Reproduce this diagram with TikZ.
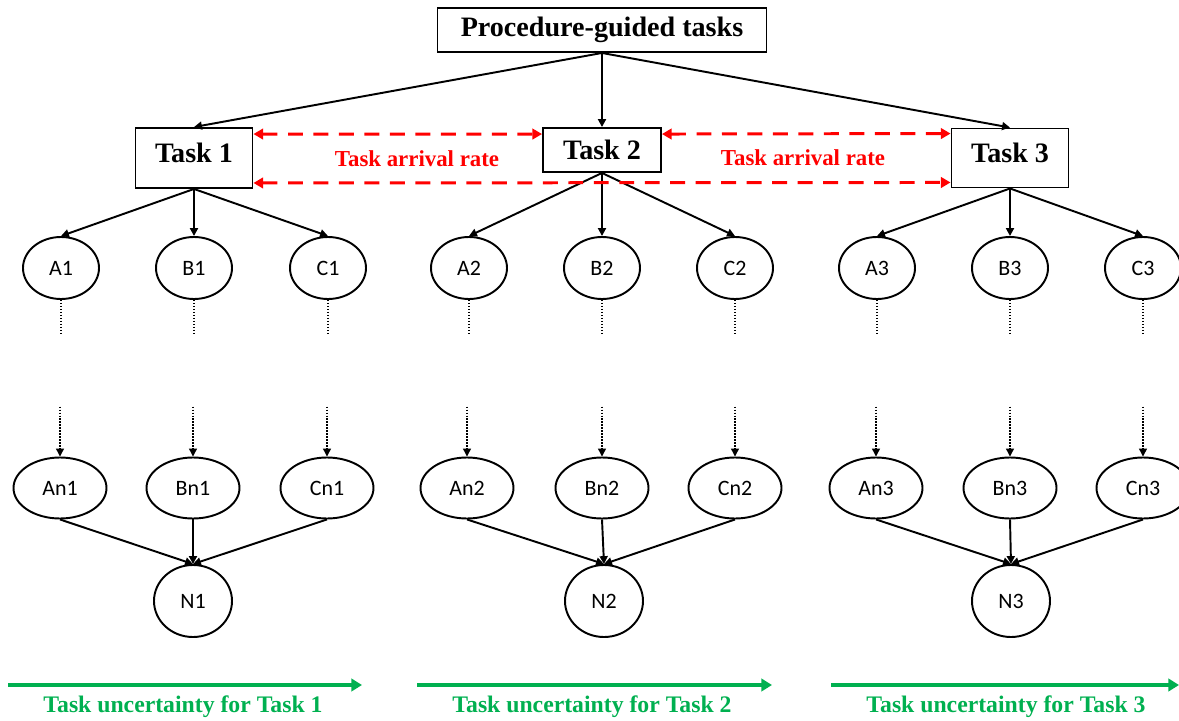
\documentclass[tikz,border=0pt]{standalone}
\usepackage{fontspec}
\setmainfont{Liberation Serif}
\newfontfamily\calib{Carlito}
\usetikzlibrary{arrows.meta,calc,shapes,positioning}
\definecolor{uncgreen}{RGB}{0,176,80}

\begin{document}
\begin{tikzpicture}[
            x=0.2mm, y=-0.2mm,
            box/.style={ draw, line width=1.1pt, font=\bfseries\fontsize{16}{19}\selectfont },
            oval/.style={ draw, ellipse, line width=1.1pt, inner sep=0pt, font=\calib\fontsize{12.5}{15}\selectfont, minimum width=15.2mm, minimum height=12.4mm },
            ovalwide/.style={ oval, minimum width=18.6mm, minimum height=12.2mm },
            sink/.style={ oval, minimum width=15.6mm, minimum height=14.4mm },
            link/.style={ -{Triangle[length=4.5pt,width=4.5pt]}, line width=1.1pt },
            gap/.style={ -{Triangle[length=4.5pt,width=4.5pt]}, densely dotted, line width=0.7pt },
            rate/.style={ {Triangle[length=5.5pt,width=6pt]}-{Triangle[length=5.5pt,width=6pt]}, red, dash pattern=on 8.5pt off 6pt, line width=1.7pt },
            ratelabel/.style={ red, font=\bfseries\fontsize{13}{16}\selectfont },
            trend/.style={ -{Triangle[length=6pt,width=7pt]}, uncgreen, line width=1.8pt },
            trendlabel/.style={ uncgreen, font=\bfseries\fontsize{13.5}{16}\selectfont }
        ]
        \useasboundingbox (0,0) rectangle (1179,721);

        % tasks
        \node[box, minimum width=65.8mm, minimum height=8.8mm] (root) at (602,30) {Procedure-guided tasks};
        \node[box, minimum width=23.4mm, minimum height=12mm, text depth=2mm] (t1) at (194,158) {Task 1};
        \node[box, minimum width=23.6mm, minimum height=8.8mm] (t2) at (602,150) {Task 2};
        \node[box, minimum width=23.4mm, minimum height=11.8mm, text depth=2mm] (t3) at (1010,158) {Task 3};

        % first steps
        \node[oval] (A1) at (61,268) {A1};
        \node[oval] (B1) at (194,268) {B1};
        \node[oval] (C1) at (328,268) {C1};
        \node[oval] (A2) at (469,268) {A2};
        \node[oval] (B2) at (602,268) {B2};
        \node[oval] (C2) at (735,268) {C2};
        \node[oval] (A3) at (877,268) {A3};
        \node[oval] (B3) at (1010,268) {B3};
        \node[oval] (C3) at (1143,268) {C3};

        % last steps
        \node[ovalwide] (An1) at (60,488) {An1};
        \node[ovalwide] (Bn1) at (193,488) {Bn1};
        \node[ovalwide] (Cn1) at (327,488) {Cn1};
        \node[ovalwide] (An2) at (467,488) {An2};
        \node[ovalwide] (Bn2) at (602,488) {Bn2};
        \node[ovalwide] (Cn2) at (735,488) {Cn2};
        \node[ovalwide] (An3) at (876,488) {An3};
        \node[ovalwide] (Bn3) at (1010,488) {Bn3};
        \node[ovalwide] (Cn3) at (1143,488) {Cn3};

        \node[sink] (N1) at (193,601) {N1};
        \node[sink] (N2) at (604,601) {N2};
        \node[sink] (N3) at (1011,601) {N3};

        \draw[link] (root.south) -- (t1.north);
        \draw[link] (root.south) -- (t2.north);
        \draw[link] (root.south) -- (t3.north);

        \draw[link] (t1.south) -- (A1.north);
        \draw[link] (t1.south) -- (B1.north);
        \draw[link] (t1.south) -- (C1.north);
        \draw[link] (t2.south) -- (A2.north);
        \draw[link] (t2.south) -- (B2.north);
        \draw[link] (t2.south) -- (C2.north);
        \draw[link] (t3.south) -- (A3.north);
        \draw[link] (t3.south) -- (B3.north);
        \draw[link] (t3.south) -- (C3.north);

        % steps left out
        \draw[gap] (A1.south) -- ++(0,34) ([yshift=1cm]An1.north) -- (An1.north);
        \draw[gap] (B1.south) -- ++(0,34) ([yshift=1cm]Bn1.north) -- (Bn1.north);
        \draw[gap] (C1.south) -- ++(0,34) ([yshift=1cm]Cn1.north) -- (Cn1.north);
        \draw[gap] (A2.south) -- ++(0,34) ([yshift=1cm]An2.north) -- (An2.north);
        \draw[gap] (B2.south) -- ++(0,34) ([yshift=1cm]Bn2.north) -- (Bn2.north);
        \draw[gap] (C2.south) -- ++(0,34) ([yshift=1cm]Cn2.north) -- (Cn2.north);
        \draw[gap] (A3.south) -- ++(0,34) ([yshift=1cm]An3.north) -- (An3.north);
        \draw[gap] (B3.south) -- ++(0,34) ([yshift=1cm]Bn3.north) -- (Bn3.north);
        \draw[gap] (C3.south) -- ++(0,34) ([yshift=1cm]Cn3.north) -- (Cn3.north);

        \draw[link] (An1.south) -- (N1.north);
        \draw[link] (Bn1.south) -- (N1.north);
        \draw[link] (Cn1.south) -- (N1.north);
        \draw[link] (An2.south) -- (N2.north);
        \draw[link] (Bn2.south) -- (N2.north);
        \draw[link] (Cn2.south) -- (N2.north);
        \draw[link] (An3.south) -- (N3.north);
        \draw[link] (Bn3.south) -- (N3.north);
        \draw[link] (Cn3.south) -- (N3.north);

        % arrival rate
        \draw[rate] ([yshift=-1.4mm]t1.north east) -- ([yshift=-1.4mm]t2.north west);
        \draw[rate] ([yshift=-1.4mm]t2.north east) -- ([yshift=-1.2mm]t3.north west);
        \draw[rate] ([yshift=1.2mm]t1.south east) -- ([yshift=1.2mm]t3.south west);
        \node[ratelabel] (rate12) at (417,159) {Task arrival rate};
        \node[ratelabel] (rate23) at (803,158) {Task arrival rate};

        % uncertainty
        \coordinate (u1s) at (8,685);
        \coordinate (u1e) at (362,685);
        \coordinate (u2s) at (417,685);
        \coordinate (u2e) at (772,685);
        \coordinate (u3s) at (831,685);
        \coordinate (u3e) at (1179,685);
        \draw[trend] (u1s) -- (u1e);
        \draw[trend] (u2s) -- (u2e);
        \draw[trend] (u3s) -- (u3e);
        \node[trendlabel] (u1) at (183,707) {Task uncertainty for Task 1};
        \node[trendlabel] (u2) at (592,707) {Task uncertainty for Task 2};
        \node[trendlabel] (u3) at (1006,707) {Task uncertainty for Task 3};
    \end{tikzpicture}
\end{document}
